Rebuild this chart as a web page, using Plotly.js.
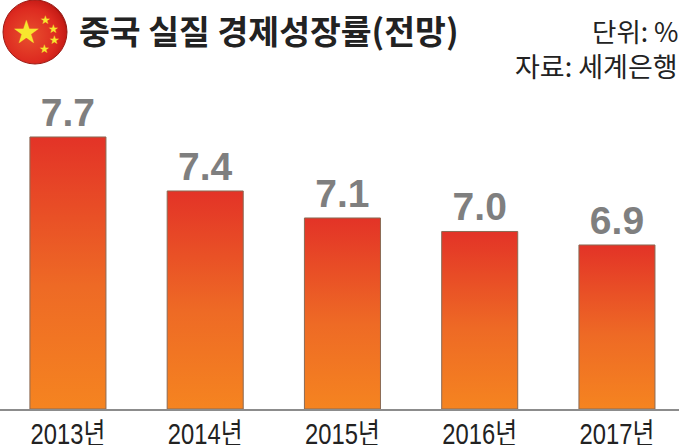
<!DOCTYPE html>
<html><head><meta charset="utf-8">
<script src="https://cdn.plot.ly/plotly-3.0.1.min.js"></script>
<style>html,body{margin:0;padding:0;background:#fff}#c{width:679px;height:445px}</style></head>
<body><div id="c"></div>
<script>
const years = ['2013년','2014년','2015년','2016년','2017년'];
// Numbers printed above the bars.
const printedLabels = ['7.7','7.4','7.1','7.0','6.9'];
// Bar tops: the 2014 bar is drawn lower than its printed 7.4.
const drawnValues = [7.7,7.3,7.1,7.0,6.9];
const axisFloor = 5.685;

const starAnn = (x,y,s)=>({xref:'paper',yref:'paper',x:x/679,y:1-y/409,text:'★',showarrow:false,
  xanchor:'center',yanchor:'middle',font:{family:'DejaVu Sans',size:s,color:'#f7e62e'}});

const layout = {
  width:679,height:445,paper_bgcolor:'#fff',plot_bgcolor:'#fff',showlegend:false,
  margin:{l:0,r:0,t:0,b:36},
  bargap:0.446,
  xaxis:{type:'category',range:[-0.495,4.452],fixedrange:true,showgrid:false,zeroline:false,
    showline:true,linecolor:'#8c8c8c',linewidth:2,ticks:'',ticklabelstandoff:0,
    tickfont:{family:'"Liberation Sans","Noto Sans CJK KR"',size:29,color:'#222'}},
  yaxis:{range:[axisFloor,axisFloor+409/135],visible:false,fixedrange:true},
  title:{text:'<b>중국 실질 경제성장률(전망)</b>',x:79/679,xanchor:'left',xref:'paper',
    y:1-32/445,yanchor:'middle',yref:'container',pad:{l:0,r:0,t:0,b:0},
    font:{family:'"Noto Sans CJK KR"',size:33.5,color:'#222'}},
  shapes:[{type:'circle',xref:'paper',yref:'paper',x0:3/679,x1:67/679,y0:1-64/409,y1:1-0/409,
    fillcolor:'#d8261f',line:{color:'#9c1a14',width:1}}],
  annotations:[
    {xref:'paper',yref:'paper',x:680/679,y:1-30/409,xanchor:'right',yanchor:'middle',showarrow:false,
     text:'단위: %',font:{family:'"Noto Sans CJK KR"',size:26.5,color:'#222'}},
    {xref:'paper',yref:'paper',x:680/679,y:1-65/409,xanchor:'right',yanchor:'middle',showarrow:false,
     text:'자료: 세계은행',font:{family:'"Noto Sans CJK KR"',size:27,color:'#222'}},
    starAnn(26,32,32),starAnn(45,20,12),starAnn(53,29,12),starAnn(54,40,12),starAnn(44,49,12)
  ]
};
const trace = {type:'bar',x:years,base:axisFloor,y:drawnValues.map(v=>v-axisFloor),
  text:printedLabels,textposition:'outside',cliponaxis:false,constraintext:'none',
  textfont:{family:'"Liberation Sans"',size:39,color:'#7f7f7f',weight:700},
  marker:{color:'#ee5a25',line:{color:'#8a6a55',width:1}},hoverinfo:'skip'};

Plotly.newPlot('c',[trace],layout,{displayModeBar:false,staticPlot:true}).then(gd=>{
  const svg = gd.querySelector('svg.main-svg');
  const NS='http://www.w3.org/2000/svg';
  const defs = svg.querySelector('defs');
  const g = document.createElementNS(NS,'linearGradient');
  g.id='barGrad'; g.setAttribute('x1','0');g.setAttribute('y1','0');g.setAttribute('x2','0');g.setAttribute('y2','1');
  [['0','#e33327'],['0.55','#ee6a25'],['1','#f58420']].forEach(([o,c])=>{
    const s=document.createElementNS(NS,'stop');s.setAttribute('offset',o);s.setAttribute('stop-color',c);g.appendChild(s);});
  defs.appendChild(g);
  const r = document.createElementNS(NS,'radialGradient');
  r.id='flagGrad';r.setAttribute('cx','0.42');r.setAttribute('cy','0.55');r.setAttribute('r','0.6');
  [['0','#e8502e'],['0.7','#dd2a20'],['0.93','#c71c16'],['1','#8f1410']].forEach(([o,c])=>{
    const s=document.createElementNS(NS,'stop');s.setAttribute('offset',o);s.setAttribute('stop-color',c);r.appendChild(s);});
  defs.appendChild(r);
  gd.querySelectorAll('.bars .point path').forEach(p=>{p.style.fill='url(#barGrad)';});
  gd.querySelectorAll('.shapelayer path').forEach(p=>{p.style.fill='url(#flagGrad)';p.style.fillOpacity=1;});
  // The reference's year labels are set in a condensed face: squeeze them horizontally about their centres.
  gd.querySelectorAll('.xtick text').forEach(t=>{
    const b=t.getBBox(), cx=b.x+b.width/2, cur=t.getAttribute('transform')||'';
    t.setAttribute('transform',cur+` translate(${cx} -2) scale(0.82 1) translate(${-cx} 0)`);
  });
});
</script></body></html>
